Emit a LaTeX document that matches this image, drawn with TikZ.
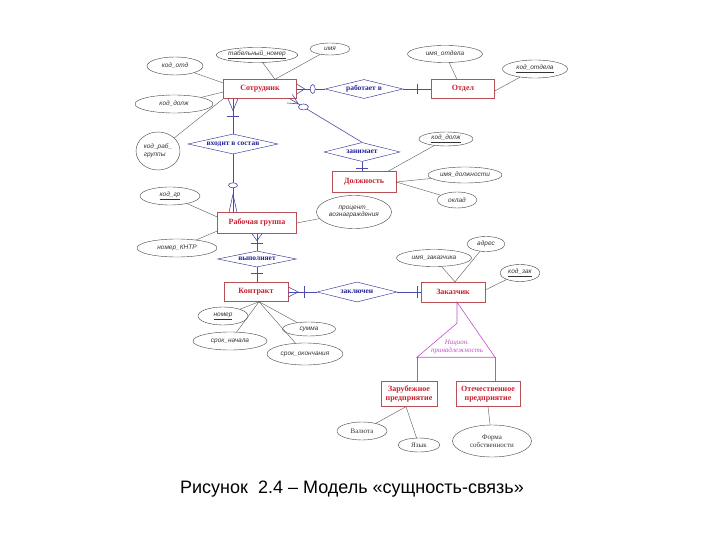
\documentclass[tikz,border=0pt]{standalone}
\usepackage{fontspec}
\setmainfont{Liberation Serif}
\newfontfamily\attrfont{Liberation Sans}
\usetikzlibrary{shapes.geometric,calc}

\definecolor{entred}{RGB}{200,30,45}
\definecolor{entframe}{RGB}{185,80,85}
\definecolor{relblue}{RGB}{35,35,150}
\definecolor{linkblue}{RGB}{75,75,170}
\definecolor{specpink}{RGB}{195,80,200}

\tikzset{
	entity/.style={draw=entframe, rectangle, inner sep=0pt, text=entred, align=center,
		font=\fontsize{8}{9}\selectfont\bfseries},
	rel/.style={draw=relblue, diamond, inner sep=0pt, text=relblue,
		font=\fontsize{7.5}{8.5}\selectfont\bfseries},
	attr/.style={draw=black!75, ellipse, inner sep=0pt, text=black!80, align=center,
		font=\attrfont\fontsize{6.5}{7.5}\selectfont\itshape},
	attrser/.style={attr, font=\fontsize{7}{8}\selectfont},
	link/.style={draw=linkblue, line width=0.6pt},
	attrlink/.style={draw=black!65, line width=0.4pt},
	optring/.style={draw=linkblue, line width=0.6pt, fill=white},
}

\begin{document}
\begin{tikzpicture}[x=1pt, y=-1pt]
		\useasboundingbox (0, 0) rectangle (720, 540);

		% сущности
		\node[entity, minimum width=73pt, minimum height=19pt] (sotr) at (260, 89) {Сотрудник};
		\node[entity, minimum width=63pt, minimum height=19pt] (otdel) at (463, 89) {Отдел};
		\node[entity, minimum width=64pt, minimum height=21pt] (dolzh) at (364, 182) {Должность};
		\node[entity, minimum width=79pt, minimum height=21pt] (rgr) at (257, 223) {Рабочая группа};
		\node[entity, minimum width=64pt, minimum height=19pt] (kontr) at (256, 292) {Контракт};
		\node[entity, minimum width=64pt, minimum height=20pt] (zak) at (453, 292) {Заказчик};
		\node[entity, minimum width=56pt, minimum height=25pt] (zarub) at (409, 394) {Зарубежное\\предприятие};
		\node[entity, minimum width=64pt, minimum height=25pt] (otech) at (488, 394) {Отечественное\\предприятие};

		% связи
		\node[rel, minimum width=78pt, minimum height=19pt] (rabv) at (364, 89) {\makebox[0pt]{работает в}};
		\node[rel, minimum width=76pt, minimum height=19pt] (zanim) at (362, 152) {\makebox[0pt]{занимает}};
		\node[rel, minimum width=90pt, minimum height=20pt] (vhod) at (233, 144) {\makebox[0pt]{входит в состав}};
		\node[rel, minimum width=79pt, minimum height=16pt] (vypoln) at (257, 259) {\makebox[0pt]{выполняет}};
		\node[rel, minimum width=80pt, minimum height=20pt] (zakl) at (357, 292) {\makebox[0pt]{заключен}};

		% атрибуты
		\node[attr, minimum width=56pt, minimum height=18pt] (kodotd) at (175, 66) {код\_отд};
		\node[attr, minimum width=75pt, minimum height=15pt] (tabnom) at (257, 55) {\underline{табельный\_номер}};
		\node[attr, minimum width=40pt, minimum height=12pt] (imya) at (330, 49) {имя};
		\node[attr, minimum width=78pt, minimum height=18pt] (koddolzhs) at (174, 104) {код\_долж};
		\node[attr, minimum width=44pt, minimum height=38pt, align=left] (kodrab) at (158, 151) {код\_раб\_\\группы};
		\node[attr, minimum width=75pt, minimum height=17pt] (imyaotd) at (445, 54) {имя\_отдела};
		\node[attr, minimum width=65pt, minimum height=18pt] (kodotdela) at (535, 69) {\underline{код\_отдела}};
		\node[attr, minimum width=54pt, minimum height=14pt] (koddolzh) at (446, 139) {\underline{код\_долж}};
		\node[attr, minimum width=74pt, minimum height=16pt] (imyadolzh) at (465, 175) {имя\_должности};
		\node[attr, minimum width=40pt, minimum height=16pt] (oklad) at (457, 200) {оклад};
		\node[attr, minimum width=75pt, minimum height=33pt] (proc) at (354, 212) {процент\_\\вознаграждения};
		\node[attr, minimum width=60pt, minimum height=18pt] (kodgr) at (170, 196) {\underline{код\_гр}};
		\node[attr, minimum width=80pt, minimum height=18pt] (nomknt) at (177, 248) {номер\_КНТР};
		\node[attr, minimum width=50pt, minimum height=18pt] (nomer) at (223, 316) {\underline{номер}};
		\node[attr, minimum width=74pt, minimum height=18pt] (sroknach) at (230, 341) {срок\_начала};
		\node[attr, minimum width=53pt, minimum height=14pt] (summa) at (309, 329) {сумма};
		\node[attr, minimum width=76pt, minimum height=22pt] (srokok) at (305, 354) {срок\_окончания};
		\node[attr, minimum width=75pt, minimum height=17pt] (imyazak) at (434, 258) {имя\_заказчика};
		\node[attr, minimum width=38pt, minimum height=15pt] (adres) at (486, 244) {адрес};
		\node[attr, minimum width=40pt, minimum height=17pt] (kodzak) at (520, 273) {\underline{код\_зак}};
		\node[attrser, minimum width=50pt, minimum height=18pt] (valuta) at (362, 431) {Валюта};
		\node[attrser, minimum width=42pt, minimum height=14pt] (yazyk) at (419, 445) {Язык};
		\node[attrser, minimum width=79pt, minimum height=32pt] (forma) at (492, 441) {Форма\\собственности};

		% линии атрибутов
		\coordinate (stop) at ($(sotr.north)+(15, 0)$);
		\draw[attrlink] (kodotd) -- ($(sotr.west)+(0, -6)$);
		\draw[attrlink] (koddolzhs) -- ($(sotr.west)+(0, 3)$);
		\draw[attrlink] (kodrab) -- (sotr.south west);
		\draw[attrlink] (tabnom) -- (stop);
		\draw[attrlink] (imya) -- (stop);
		\draw[attrlink] (imyaotd) -- ($(otdel.north)+(-6, 0)$);
		\draw[attrlink] (kodotdela) -- ($(otdel.east)+(0, 2)$);
		\draw[attrlink] (koddolzh) -- ($(dolzh.north)+(24, 0)$);
		\draw[attrlink] (imyadolzh) -- (dolzh.east);
		\draw[attrlink] (oklad) -- (dolzh.east);
		\draw[attrlink] (proc) -- (rgr.east);
		\draw[attrlink] (kodgr) -- ($(rgr.west)+(0, -6)$);
		\draw[attrlink] (nomknt) -- ($(rgr.west)+(0, 8)$);
		\coordinate (kbot) at ($(kontr.south)+(3, 0)$);
		\draw[attrlink] (nomer) -- (kbot);
		\draw[attrlink] (sroknach) -- (kbot);
		\draw[attrlink] (summa) -- (kbot);
		\draw[attrlink] (srokok) -- (kbot);
		\coordinate (ztop) at ($(zak.north)+(2, 0)$);
		\draw[attrlink] (imyazak) -- (ztop);
		\draw[attrlink] (adres) -- (ztop);
		\draw[attrlink] (kodzak) -- ($(zak.east)+(0, -2)$);
		\coordinate (zbot) at ($(zarub.south)+(-3, 0)$);
		\draw[attrlink] (valuta) -- (zbot);
		\draw[attrlink] (yazyk) -- (zbot);
		\draw[attrlink] (forma) -- (otech.south);

		% Сотрудник -- работает в -- Отдел
		\draw[link] (sotr.east) -- (rabv.west);
		\draw[link] ($(sotr.east)+(0, -5)$) -- ($(sotr.east)+(8, 0)$) -- ($(sotr.east)+(0, 5)$);
		\draw[optring] ($(sotr.east)+(16, 0)$) ellipse [x radius=2.5pt, y radius=4.5pt];
		\draw[link] (rabv.east) -- (otdel.west);
		\draw[link] ($(otdel.west)+(-14, -5)$) -- ($(otdel.west)+(-14, 5)$);

		% Сотрудник -- занимает -- Должность
		\coordinate (sz) at ($(sotr.south east)+(-7, 0)$);
		\draw[link] (sz) -- (zanim.north);
		\draw[link] ($(sz)!5pt!90:(zanim.north)$) -- ($(sz)!10pt!(zanim.north)$) -- ($(sz)!5pt!-90:(zanim.north)$);
		\draw[optring] ($(sz)!16pt!(zanim.north)$) ellipse [x radius=5pt, y radius=3pt];
		\coordinate (dtop) at (zanim.south |- dolzh.north);
		\draw[link] (zanim.south) -- (dtop);
		\draw[link] ($(dtop)+(-6, -3)$) -- ($(dtop)+(6, -3)$);

		% Сотрудник -- входит в состав -- Рабочая группа
		\coordinate (sv) at (vhod.north |- sotr.south);
		\draw[link] (sv) -- (vhod.north);
		\draw[link] ($(sv)+(-5, 0)$) -- ($(sv)+(0, 12)$) -- ($(sv)+(5, 0)$);
		\draw[link] ($(sv)+(-6, 18)$) -- ($(sv)+(6, 18)$);
		\coordinate (rv) at (vhod.south |- rgr.north);
		\draw[link] (vhod.south) -- (rv);
		\draw[link] ($(rv)+(-4, 0)$) -- ($(rv)+(0, -18)$) -- ($(rv)+(4, 0)$);
		\draw[optring] ($(rv)+(0, -27)$) ellipse [x radius=4.5pt, y radius=2.5pt];

		% Рабочая группа -- выполняет -- Контракт
		\draw[link] (rgr.south) -- (vypoln.north);
		\draw[link] ($(rgr.south)+(-5, 0)$) -- ($(rgr.south)+(0, 7)$) -- ($(rgr.south)+(5, 0)$);
		\draw[link] ($(rgr.south)+(-6, 10)$) -- ($(rgr.south)+(6, 10)$);
		\coordinate (ktop) at (vypoln.south |- kontr.north);
		\draw[link] (vypoln.south) -- (ktop);
		\draw[link] ($(ktop)+(-6, -9)$) -- ($(ktop)+(6, -9)$);

		% Контракт -- заключен -- Заказчик
		\draw[link] (kontr.east) -- (zakl.west);
		\draw[link] ($(kontr.east)+(0, -5)$) -- ($(kontr.east)+(10, 0)$) -- ($(kontr.east)+(0, 5)$);
		\draw[link] ($(kontr.east)+(16, -6)$) -- ($(kontr.east)+(16, 6)$);
		\draw[link] (zakl.east) -- (zak.west);
		\draw[link] ($(zak.west)+(-4, -6)$) -- ($(zak.west)+(-4, 6)$);

		% категория Заказчика
		\coordinate (zs) at ($(zak.south)+(4, 0)$);
		\coordinate (apex) at ($(zs)+(0, 21)$);
		\coordinate (bl) at ($(apex)+(-40, 34)$);
		\coordinate (br) at ($(apex)+(38, 34)$);
		\draw[specpink, line width=0.6pt] (zs) -- (apex) -- (bl) -- (br) -- cycle;
		\draw[specpink, line width=0.6pt] (bl) -- (bl |- zarub.north);
		\draw[specpink, line width=0.6pt] (br) -- (br |- otech.north);
		\node[text=specpink, font=\fontsize{7}{8.5}\selectfont\itshape, align=center] (nac) at ($(apex)+(0, 24)$) {Национ.\\принадлежность};

		% подпись
		\node[font=\attrfont\fontsize{18}{20}\selectfont, anchor=base] (cap) at (352, 493) {Рисунок\ \ 2.4 – Модель «сущность-связь»};
\end{tikzpicture}
\end{document}
